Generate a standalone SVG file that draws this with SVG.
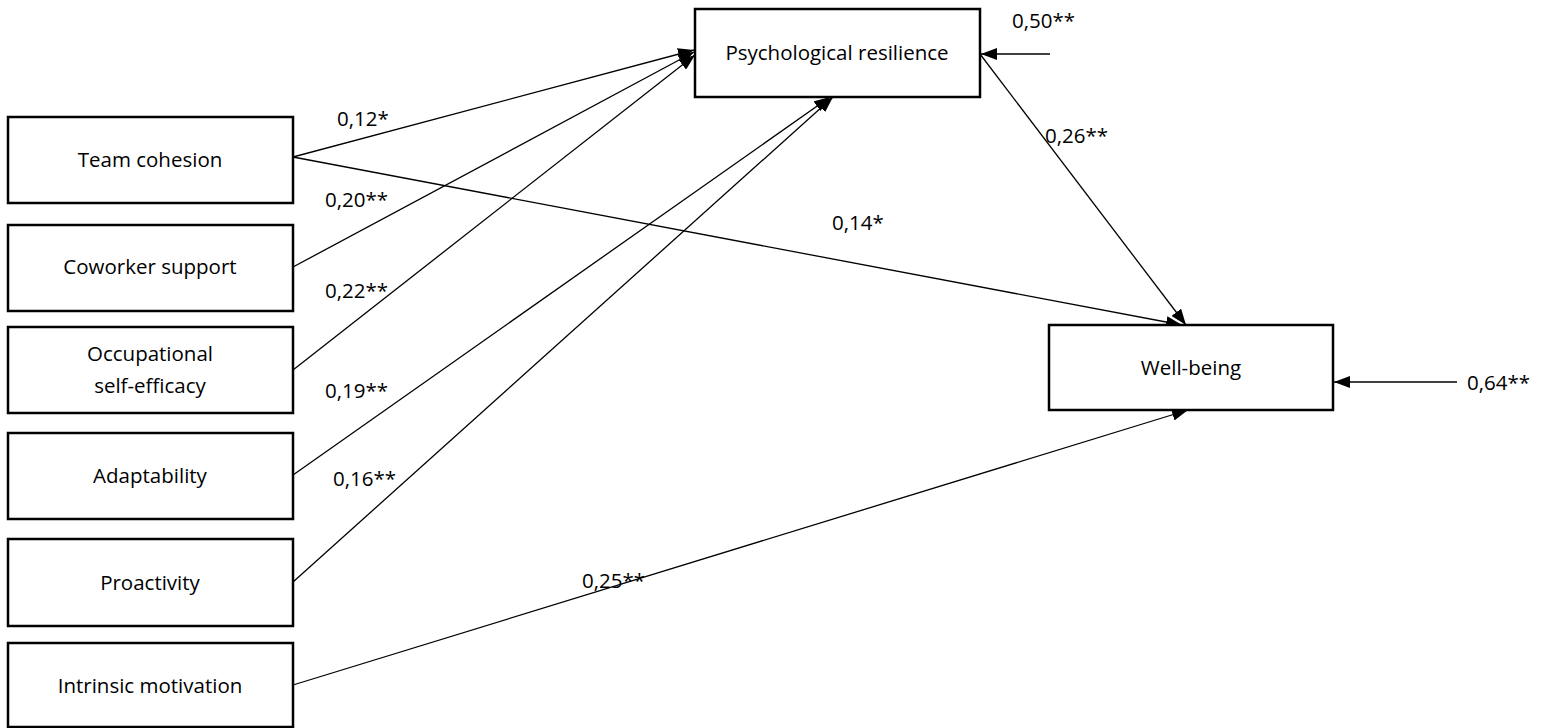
<svg xmlns="http://www.w3.org/2000/svg" width="1548" height="728" viewBox="0 0 1548 728">
<defs>
<marker id="ah" viewBox="0 0 16 12" refX="16" refY="6" markerWidth="16" markerHeight="12" markerUnits="userSpaceOnUse" orient="auto">
<path d="M0,0 L16,6 L0,12 Z" fill="#000"/>
</marker>
</defs>
<style>
.box{fill:#fff;stroke:#000;stroke-width:2.5}
.t{font-family:"Open Sans","Liberation Sans",sans-serif;font-size:20.5px;fill:#000;text-anchor:middle}
.l{font-family:"Open Sans","Liberation Sans",sans-serif;font-size:20.5px;fill:#000}
.c{stroke:#000;stroke-width:1.3;fill:none;marker-end:url(#ah)}
</style>
<rect width="1548" height="728" fill="#fff"/>
<g id="connectors">
<line class="c" x1="293" y1="157" x2="694" y2="50"/>
<line class="c" x1="293" y1="267" x2="694" y2="52"/>
<line class="c" x1="293" y1="370" x2="695" y2="55"/>
<line class="c" x1="293" y1="475" x2="830" y2="97"/>
<line class="c" x1="293" y1="582" x2="833" y2="97"/>
<line class="c" x1="293" y1="157" x2="1182" y2="325"/>
<line class="c" x1="980" y1="54" x2="1186" y2="325"/>
<line class="c" x1="293" y1="685" x2="1188" y2="410"/>
<line class="c" x1="1050" y1="54" x2="981" y2="54"/>
<line class="c" x1="1457" y1="382" x2="1334" y2="382"/>
</g>
<g id="labels">
<text class="l" x="337" y="126">0,12*</text>
<text class="l" x="325" y="207">0,20**</text>
<text class="l" x="325" y="298">0,22**</text>
<text class="l" x="325" y="398">0,19**</text>
<text class="l" x="333" y="486">0,16**</text>
<text class="l" x="832" y="230">0,14*</text>
<text class="l" x="1045" y="143">0,26**</text>
<text class="l" x="582" y="588">0,25**</text>
<text class="l" x="1012" y="28">0,50**</text>
<text class="l" x="1467" y="390">0,64**</text>
</g>
<g id="team-cohesion"><rect class="box" x="8" y="117" width="285" height="86"/><text class="t" x="150" y="167">Team cohesion</text></g>
<g id="coworker-support"><rect class="box" x="8" y="225" width="285" height="86"/><text class="t" x="150" y="274">Coworker support</text></g>
<g id="occupational-self-efficacy"><rect class="box" x="8" y="327" width="285" height="86"/><text class="t" x="150" y="361">Occupational</text><text class="t" x="150" y="393">self-efficacy</text></g>
<g id="adaptability"><rect class="box" x="8" y="433" width="285" height="86"/><text class="t" x="150" y="483">Adaptability</text></g>
<g id="proactivity"><rect class="box" x="8" y="539" width="285" height="87"/><text class="t" x="150" y="590">Proactivity</text></g>
<g id="intrinsic-motivation"><rect class="box" x="8" y="643" width="285" height="84"/><text class="t" x="150" y="693">Intrinsic motivation</text></g>
<g id="psychological-resilience"><rect class="box" x="695" y="9" width="285" height="88"/><text class="t" x="837" y="60">Psychological resilience</text></g>
<g id="well-being"><rect class="box" x="1049" y="325" width="284" height="85"/><text class="t" x="1191" y="375">Well-being</text></g>
</svg>
